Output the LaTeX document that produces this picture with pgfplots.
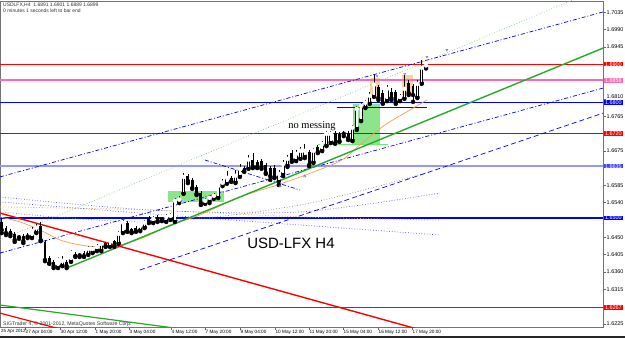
\documentclass[border=0pt]{standalone}
\usepackage{fontspec}
\setmainfont{Liberation Sans}
\newfontfamily\seriffont{Liberation Serif}
\usepackage{pgfplots}
\usepackage{pgfplotstable}
\pgfplotsset{compat=1.18}
\definecolor{mtred}{RGB}{255,0,0}
\definecolor{mtpink}{RGB}{255,105,180}
\definecolor{mtblue}{RGB}{0,0,255}
\definecolor{mtlav}{RGB}{150,150,255}
\definecolor{mtgreen}{RGB}{40,170,40}
\definecolor{mtlgreen}{RGB}{140,228,140}
\definecolor{mtpeach}{RGB}{248,210,165}
\definecolor{mtorange}{RGB}{240,160,80}

\pgfplotstableread{
i o h l c
7 1.6451 1.6477 1.6448 1.6469
8 1.6464 1.6485 1.6461 1.6477
13 1.6373 1.6399 1.6370 1.6394
14 1.6378 1.6401 1.6375 1.6391
16 1.6388 1.6417 1.6386 1.6412
20 1.6407 1.6427 1.6404 1.6422
21 1.6412 1.6427 1.6409 1.6422
22 1.6417 1.6433 1.6414 1.6427
23 1.6417 1.6440 1.6414 1.6435
25 1.6427 1.6446 1.6425 1.6443
27 1.6435 1.6466 1.6433 1.6461
28 1.6464 1.6495 1.6461 1.6490
32 1.6469 1.6485 1.6466 1.6482
33 1.6477 1.6495 1.6474 1.6490
35 1.6490 1.6505 1.6487 1.6500
38 1.6492 1.6511 1.6490 1.6505
39 1.6498 1.6513 1.6495 1.6508
40 1.6492 1.6552 1.6490 1.6547
41 1.6544 1.6557 1.6539 1.6550
42 1.6565 1.6617 1.6563 1.6609
47 1.6539 1.6552 1.6537 1.6547
48 1.6544 1.6560 1.6539 1.6555
49 1.6552 1.6565 1.6550 1.6560
50 1.6555 1.6589 1.6552 1.6586
51 1.6586 1.6601 1.6583 1.6594
52 1.6591 1.6622 1.6589 1.6607
54 1.6594 1.6625 1.6591 1.6612
55 1.6609 1.6641 1.6607 1.6630
57 1.6630 1.6664 1.6628 1.6654
64 1.6596 1.6625 1.6586 1.6617
65 1.6615 1.6651 1.6609 1.6643
66 1.6638 1.6664 1.6633 1.6656
68 1.6651 1.6677 1.6648 1.6669
69 1.6656 1.6685 1.6654 1.6677
70 1.6661 1.6693 1.6656 1.6677
72 1.6646 1.6682 1.6643 1.6677
74 1.6677 1.6700 1.6674 1.6695
75 1.6690 1.6726 1.6687 1.6721
76 1.6698 1.6726 1.6695 1.6721
81 1.6703 1.6742 1.6700 1.6737
82 1.6734 1.6791 1.6729 1.6786
83 1.6755 1.6799 1.6752 1.6794
84 1.6789 1.6807 1.6786 1.6802
85 1.6799 1.6828 1.6797 1.6820
86 1.6817 1.6872 1.6815 1.6849
89 1.6807 1.6846 1.6804 1.6838
92 1.6807 1.6823 1.6804 1.6817
93 1.6812 1.6872 1.6810 1.6838
96 1.6815 1.6859 1.6812 1.6851
97 1.6851 1.6911 1.6849 1.6893
98 1.6891 1.6901 1.6889 1.6899
}\bull

\pgfplotstableread{
i o h l c
0 1.6490 1.6500 1.6461 1.6469
1 1.6474 1.6479 1.6456 1.6461
2 1.6466 1.6472 1.6453 1.6459
3 1.6459 1.6464 1.6438 1.6443
4 1.6452 1.6456 1.6446 1.6450
5 1.6453 1.6459 1.6435 1.6440
6 1.6454 1.6461 1.6448 1.6452
9 1.6479 1.6490 1.6440 1.6443
10 1.6438 1.6443 1.6388 1.6391
11 1.6396 1.6401 1.6381 1.6383
12 1.6386 1.6391 1.6370 1.6375
15 1.6386 1.6391 1.6370 1.6375
17 1.6407 1.6412 1.6399 1.6401
18 1.6406 1.6409 1.6399 1.6403
19 1.6409 1.6414 1.6399 1.6401
24 1.6435 1.6438 1.6425 1.6427
26 1.6440 1.6443 1.6425 1.6427
29 1.6487 1.6492 1.6464 1.6466
30 1.6472 1.6474 1.6461 1.6464
31 1.6474 1.6479 1.6464 1.6466
34 1.6500 1.6505 1.6487 1.6490
36 1.6503 1.6508 1.6490 1.6492
37 1.6498 1.6503 1.6492 1.6496
43 1.6609 1.6615 1.6591 1.6596
44 1.6599 1.6604 1.6576 1.6578
45 1.6581 1.6586 1.6560 1.6563
46 1.6565 1.6570 1.6534 1.6539
53 1.6604 1.6609 1.6594 1.6596
56 1.6630 1.6635 1.6620 1.6622
58 1.6651 1.6669 1.6630 1.6633
59 1.6646 1.6651 1.6630 1.6633
60 1.6648 1.6654 1.6628 1.6633
61 1.6638 1.6643 1.6615 1.6617
62 1.6630 1.6635 1.6599 1.6609
63 1.6630 1.6638 1.6604 1.6607
67 1.6669 1.6677 1.6646 1.6651
71 1.6672 1.6677 1.6635 1.6638
73 1.6685 1.6690 1.6669 1.6672
77 1.6721 1.6726 1.6693 1.6695
78 1.6719 1.6724 1.6698 1.6700
79 1.6721 1.6726 1.6713 1.6719
80 1.6721 1.6726 1.6703 1.6708
87 1.6841 1.6846 1.6807 1.6812
88 1.6825 1.6833 1.6797 1.6799
90 1.6828 1.6838 1.6807 1.6812
91 1.6828 1.6833 1.6797 1.6802
94 1.6851 1.6859 1.6820 1.6825
95 1.6843 1.6849 1.6802 1.6820
}\bear

\begin{document}
\begin{tikzpicture}
\path[use as bounding box] (0bp,0bp) rectangle (625bp,338bp);
\fill[white] (0bp,0bp) rectangle (625bp,338bp);
\begin{axis}[
  at={(0bp,11bp)}, anchor=south west,
  scale only axis, width=603bp, height=326bp,
  xmin=-0.39, xmax=138.87, ymin=1.62168, ymax=1.70644,
  clip mode=individual,
  axis line style={black!55, line width=0.6bp},
  ytick={1.6225,1.6315,1.6360,1.6405,1.6450,1.6540,1.6585,1.6675,1.6765,1.6945,1.6990,1.7035},
  extra y ticks={1.6810},
  extra y tick style={yticklabel style={yshift=2.5bp}},
  ytick pos=right, yticklabel pos=right,
  xtick pos=bottom,
  tick align=outside, major tick length=2.5bp,
  tick style={black!60, line width=0.5bp},
  scaled y ticks=false,
  yticklabel style={font=\fontsize{5.5}{6}\selectfont, inner sep=1bp, /pgf/number format/fixed, /pgf/number format/fixed zerofill, /pgf/number format/precision=4, /pgf/number format/assume math mode=true},
  xtick={5.38,13.46,21.55,29.4,39.1,46.95,55.03,63.1,70.97,78.83,86.9,94.76},
  xticklabels={27 Apr 04:00,30 Apr 12:00,1 May 20:00,3 May 04:00,4 May 12:00,7 May 20:00,9 May 04:00,10 May 12:00,11 May 20:00,15 May 04:00,16 May 12:00,17 May 20:00},
  xticklabel style={font=\fontsize{4.7}{6}\selectfont, anchor=north west, inner sep=0.5bp, yshift=0bp},
]
% rectangles
\addplot[fill=mtlgreen, draw=none] coordinates {(38.4,1.6542) (51.3,1.6542) (51.3,1.6570) (38.4,1.6570)} -- cycle;
\addplot[fill=mtlgreen, draw=none] coordinates {(81.1,1.6690) (87.4,1.6690) (87.4,1.6797) (81.1,1.6797)} -- cycle;
\addplot[fill=mtpeach, draw=none] coordinates {(85.1,1.6820) (87.4,1.6820) (87.4,1.6864) (85.1,1.6864)} -- cycle;
\addplot[fill=mtpeach, draw=none] coordinates {(92.4,1.6820) (95.0,1.6820) (95.0,1.6872) (92.4,1.6872)} -- cycle;
% horizontal levels
\addplot[mtred, line width=0.9bp] coordinates {(-1,1.6900) (140,1.6900)};
\addplot[mtpink, line width=2bp] coordinates {(-1,1.6858) (140,1.6858)};
\addplot[mtblue, line width=1.3bp] coordinates {(-1,1.6800) (140,1.6800)};
\addplot[mtred!85!black, line width=0.8bp] coordinates {(-1,1.6720) (140,1.6720)};
\addplot[mtlav, line width=2bp] coordinates {(-1,1.6635) (140,1.6635)};
\addplot[mtblue, line width=1.3bp] coordinates {(-1,1.6500) (140,1.6500)};
\addplot[mtred, line width=1.3bp] coordinates {(-1,1.6267) (140,1.6267)};
% short segments
\addplot[mtlgreen!80!green, line width=0.9bp] coordinates {(73.05,1.6692) (89.2,1.6692)};
\addplot[mtblue, line width=0.8bp] coordinates {(77.4,1.6789) (98.2,1.6789)};
% dotted fan / envelope lines
\addplot[gray, dotted, line width=0.7bp, smooth] coordinates {(-0.4,1.6516) (34.25,1.6490) (68.9,1.6534) (98.9,1.6620)};
\addplot[mtblue!70, dotted, line width=0.7bp, smooth] coordinates {(-0.4,1.6555) (34.25,1.6521) (68.9,1.6516) (101.2,1.6565)};
\addplot[mtorange, dotted, line width=0.8bp, smooth] coordinates {(-0.4,1.6529) (34.25,1.6521) (68.9,1.6503) (101.2,1.6495)};
\addplot[mtblue!70, dotted, line width=0.7bp, smooth] coordinates {(-0.4,1.6542) (34.25,1.6511) (68.9,1.6482) (101.2,1.6456)};
% channel lines
\addplot[mtblue, line width=0.7bp, dash pattern=on 4bp off 2bp on 1bp off 2bp] coordinates {(-0.4,1.6607) (138.9,1.7036)};
\addplot[mtblue, line width=0.7bp, dash pattern=on 4bp off 2bp on 1bp off 2bp] coordinates {(-0.4,1.6409) (138.9,1.6838)};
\addplot[mtblue, line width=0.7bp, dash pattern=on 4bp off 2bp on 1bp off 2bp] coordinates {(46.95,1.6651) (68.9,1.6573)};
\addplot[mtblue, line width=0.7bp, dash pattern=on 5bp off 3bp] coordinates {(31.9,1.6365) (138.9,1.6773)};
\addplot[mtgreen!60, line width=0.7bp, dotted] coordinates {(-0.4,1.6443) (131.9,1.7067)};
% moving average
\addplot[mtorange, line width=0.7bp, smooth] coordinates {(-0.4,1.6503) (4.2,1.6490) (8.85,1.6469) (13.5,1.6443) (18.1,1.6430) (22.7,1.6425) (27.3,1.6430) (33.1,1.6451) (38.9,1.6482) (45.8,1.6508) (55.0,1.6555) (65.0,1.6591) (77.7,1.6646) (82.7,1.6690) (88.5,1.6742) (94.3,1.6781) (98.2,1.6807)};
% trend lines
\addplot[mtgreen, line width=1.4bp] coordinates {(15,1.6370) (138.9,1.6942)};
\addplot[mtred, line width=1.4bp] coordinates {(-0.4,1.6513) (100,1.6199)};
\addplot[mtred, line width=1.2bp] coordinates {(-0.4,1.6253) (15,1.6207)};
\addplot[mtgreen, line width=1.2bp] coordinates {(-0.4,1.6274) (40,1.6214)};
% candles: wicks
\addplot[black, only marks, mark=none, error bars/.cd, y dir=plus, y explicit, error mark=none, error bar style={line width=0.6bp}] table[x=i, y=l, y error plus expr={\thisrow{h}-\thisrow{l}}] {\bull};
\addplot[black, only marks, mark=none, error bars/.cd, y dir=plus, y explicit, error mark=none, error bar style={line width=0.6bp}] table[x=i, y=l, y error plus expr={\thisrow{h}-\thisrow{l}}] {\bear};
% bodies
\addplot[black, only marks, mark=none, error bars/.cd, y dir=plus, y explicit, error mark=none, error bar style={line width=2.9bp, line cap=butt}] table[x=i, y=c, y error plus expr={\thisrow{o}-\thisrow{c}}] {\bear};
\addplot[black, only marks, mark=none, error bars/.cd, y dir=plus, y explicit, error mark=none, error bar style={line width=2.9bp, line cap=butt}] table[x=i, y=o, y error plus expr={\thisrow{c}-\thisrow{o}}] {\bull};
\addplot[white, only marks, mark=none, yshift=-0.8bp, error bars/.cd, y dir=minus, y explicit, error mark=none, error bar style={white, draw=white, line width=1.5bp, line cap=butt}] table[x=i, y=c, y error minus expr={\thisrow{c}-\thisrow{o}-0.0004}] {\bull};
% arrows
\addplot[only marks, mark=triangle, mark options={rotate=180, gray, scale=0.6}] coordinates {(86.7,1.6869) (93.1,1.6875) (98.2,1.6919) (102.8,1.6937)};
\addplot[only marks, mark=triangle, mark options={mtblue!60, scale=0.7}] coordinates {(64.3,1.6583) (70.0,1.6609)};
% price labels
\foreach \p/\c/\t in {1.6900/mtred/1.6900, 1.6858/mtpink/1.6858, 1.6800/mtblue/1.6800, 1.6720/mtred/1.6720, 1.6635/mtblue!75/1.6635, 1.6500/mtblue/1.6500, 1.6267/mtred/1.6267}{
  \edef\temp{\noexpand\node[fill=\c, text=white, font=\noexpand\fontsize{5.5}{6}\noexpand\selectfont, inner xsep=0.8bp, inner ysep=0.3bp, anchor=west] at (axis cs:138.87,\p) [xshift=1bp] {\t};}
  \temp
}
\end{axis}
\node[anchor=west, font=\fontsize{5}{6}\selectfont, text=black!80, inner sep=0pt] at (3bp,333bp) {USDLFX,H4\ \ 1.6891 1.6901 1.6889 1.6899};
\node[anchor=west, font=\fontsize{5}{6}\selectfont, text=black!80, inner sep=0pt] at (3bp,327bp) {0 minutes 1 seconds left to bar end};
\node[anchor=west, font=\fontsize{5.2}{6}\selectfont, text=black!80, inner sep=0pt] at (3bp,14bp) {SIGTrader 4, © 2001-2012, MetaQuotes Software Corp.};
\node[anchor=west, font=\fontsize{4.5}{6}\selectfont, inner sep=0pt] at (1bp,6.5bp) {25 Apr 2012};
\node[font=\seriffont\fontsize{10.5}{12}\selectfont] at (312bp,212bp) {no messing};
\node[font=\fontsize{15}{17}\selectfont] at (291bp,95bp) {USD-LFX H4};
\fill[black!85] (0bp,0bp) rectangle (625bp,2bp);
\end{tikzpicture}
\end{document}
